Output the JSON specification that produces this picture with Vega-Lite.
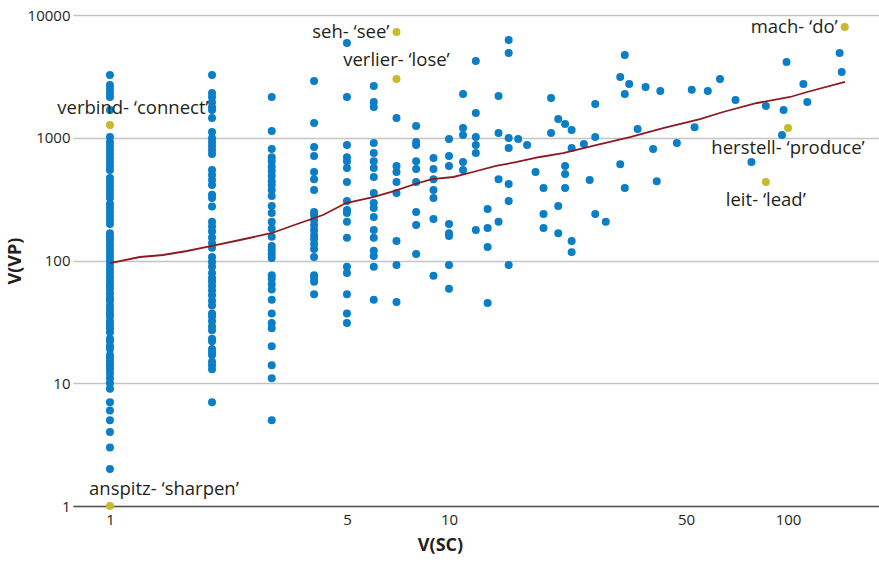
{
  "$schema": "https://vega.github.io/schema/vega-lite/v6.json",
  "width": 806,
  "height": 491,
  "autosize": {"type": "none"},
  "padding": {"left": 73, "top": 15, "right": 0, "bottom": 56},
  "background": "white",
  "config": {
    "view": {"stroke": null},
    "font": "Open Sans"
  },
  "datasets": {
    "pts": [
      {"sc":1,"vp":3245},{"sc":1,"vp":2692},{"sc":1,"vp":2496},{"sc":1,"vp":2315},{"sc":1,"vp":2148},{"sc":1,"vp":1683},{"sc":1,"vp":1014},{"sc":1,"vp":923},{"sc":1,"vp":857},{"sc":1,"vp":794},{"sc":1,"vp":737},{"sc":1,"vp":684},{"sc":1,"vp":634},{"sc":1,"vp":589},{"sc":1,"vp":546},{"sc":1,"vp":470},{"sc":1,"vp":436},{"sc":1,"vp":405},{"sc":1,"vp":375},{"sc":1,"vp":348},{"sc":1,"vp":323},{"sc":1,"vp":289},{"sc":1,"vp":268},{"sc":1,"vp":248},{"sc":1,"vp":230},{"sc":1,"vp":214},{"sc":1,"vp":198},{"sc":1,"vp":167},{"sc":1,"vp":155},{"sc":1,"vp":144},{"sc":1,"vp":134},{"sc":1,"vp":124},{"sc":1,"vp":115},{"sc":1,"vp":107},{"sc":1,"vp":99},{"sc":1,"vp":92},{"sc":1,"vp":85},{"sc":1,"vp":79},{"sc":1,"vp":73},{"sc":1,"vp":68},{"sc":1,"vp":63},{"sc":1,"vp":59},{"sc":1,"vp":54},{"sc":1,"vp":50},{"sc":1,"vp":47},{"sc":1,"vp":43},{"sc":1,"vp":40},{"sc":1,"vp":37},{"sc":1,"vp":35},{"sc":1,"vp":32},{"sc":1,"vp":30},{"sc":1,"vp":28},{"sc":1,"vp":26},{"sc":1,"vp":23},{"sc":1,"vp":22},{"sc":1,"vp":20},{"sc":1,"vp":19},{"sc":1,"vp":17},{"sc":1,"vp":16},{"sc":1,"vp":15},{"sc":1,"vp":14},{"sc":1,"vp":13},{"sc":1,"vp":12},{"sc":1,"vp":11},{"sc":1,"vp":10},{"sc":1,"vp":9},{"sc":1,"vp":7},{"sc":1,"vp":6},{"sc":1,"vp":5},{"sc":1,"vp":4},{"sc":1,"vp":3},{"sc":1,"vp":2},
      {"sc":2,"vp":3245},{"sc":2,"vp":2315},{"sc":2,"vp":2148},{"sc":2,"vp":1950},{"sc":2,"vp":1775},{"sc":2,"vp":1683},{"sc":2,"vp":1450},{"sc":2,"vp":1116},{"sc":2,"vp":995},{"sc":2,"vp":923},{"sc":2,"vp":857},{"sc":2,"vp":794},{"sc":2,"vp":737},{"sc":2,"vp":546},{"sc":2,"vp":498},{"sc":2,"vp":453},{"sc":2,"vp":413},{"sc":2,"vp":343},{"sc":2,"vp":323},{"sc":2,"vp":275},{"sc":2,"vp":207},{"sc":2,"vp":189},{"sc":2,"vp":172},{"sc":2,"vp":154},{"sc":2,"vp":139},{"sc":2,"vp":127},{"sc":2,"vp":107},{"sc":2,"vp":97},{"sc":2,"vp":89},{"sc":2,"vp":79},{"sc":2,"vp":72},{"sc":2,"vp":67},{"sc":2,"vp":62},{"sc":2,"vp":57},{"sc":2,"vp":52},{"sc":2,"vp":47},{"sc":2,"vp":43},{"sc":2,"vp":37},{"sc":2,"vp":35},{"sc":2,"vp":32},{"sc":2,"vp":29},{"sc":2,"vp":27},{"sc":2,"vp":23},{"sc":2,"vp":22},{"sc":2,"vp":19},{"sc":2,"vp":18},{"sc":2,"vp":17},{"sc":2,"vp":15},{"sc":2,"vp":14},{"sc":2,"vp":13},{"sc":2,"vp":7},
      {"sc":3,"vp":2148},{"sc":3,"vp":1137},{"sc":3,"vp":810},{"sc":3,"vp":693},{"sc":3,"vp":645},{"sc":3,"vp":580},{"sc":3,"vp":535},{"sc":3,"vp":487},{"sc":3,"vp":443},{"sc":3,"vp":413},{"sc":3,"vp":375},{"sc":3,"vp":336},{"sc":3,"vp":278},{"sc":3,"vp":244},{"sc":3,"vp":207},{"sc":3,"vp":182},{"sc":3,"vp":156},{"sc":3,"vp":131},{"sc":3,"vp":122},{"sc":3,"vp":113},{"sc":3,"vp":105},{"sc":3,"vp":76},{"sc":3,"vp":71},{"sc":3,"vp":64},{"sc":3,"vp":58},{"sc":3,"vp":48},{"sc":3,"vp":37},{"sc":3,"vp":31},{"sc":3,"vp":28},{"sc":3,"vp":20},{"sc":3,"vp":14},{"sc":3,"vp":11},{"sc":3,"vp":5},
      {"sc":4,"vp":2899},{"sc":4,"vp":1318},{"sc":4,"vp":841},{"sc":4,"vp":710},{"sc":4,"vp":525},{"sc":4,"vp":460},{"sc":4,"vp":375},{"sc":4,"vp":248},{"sc":4,"vp":235},{"sc":4,"vp":214},{"sc":4,"vp":195},{"sc":4,"vp":177},{"sc":4,"vp":161},{"sc":4,"vp":150},{"sc":4,"vp":136},{"sc":4,"vp":124},{"sc":4,"vp":107},{"sc":4,"vp":76},{"sc":4,"vp":72},{"sc":4,"vp":67},{"sc":4,"vp":53},
      {"sc":5,"vp":5915},{"sc":5,"vp":2148},{"sc":5,"vp":873},{"sc":5,"vp":693},{"sc":5,"vp":645},{"sc":5,"vp":567},{"sc":5,"vp":436},{"sc":5,"vp":305},{"sc":5,"vp":258},{"sc":5,"vp":244},{"sc":5,"vp":207},{"sc":5,"vp":153},{"sc":5,"vp":89},{"sc":5,"vp":79},{"sc":5,"vp":53},{"sc":5,"vp":37},{"sc":5,"vp":31},
      {"sc":6,"vp":2642},{"sc":6,"vp":1955},{"sc":6,"vp":1781},{"sc":6,"vp":906},{"sc":6,"vp":751},{"sc":6,"vp":645},{"sc":6,"vp":567},{"sc":6,"vp":479},{"sc":6,"vp":355},{"sc":6,"vp":294},{"sc":6,"vp":268},{"sc":6,"vp":226},{"sc":6,"vp":177},{"sc":6,"vp":153},{"sc":6,"vp":120},{"sc":6,"vp":109},{"sc":6,"vp":89},{"sc":6,"vp":48},
      {"sc":7,"vp":1449},{"sc":7,"vp":589},{"sc":7,"vp":525},{"sc":7,"vp":436},{"sc":7,"vp":355},{"sc":7,"vp":144},{"sc":7,"vp":92},{"sc":7,"vp":46},
      {"sc":8,"vp":1247},{"sc":8,"vp":923},{"sc":8,"vp":873},{"sc":8,"vp":645},{"sc":8,"vp":556},{"sc":8,"vp":436},{"sc":8,"vp":248},{"sc":8,"vp":195},{"sc":8,"vp":113},
      {"sc":9,"vp":684},{"sc":9,"vp":556},{"sc":9,"vp":460},{"sc":9,"vp":375},{"sc":9,"vp":323},{"sc":9,"vp":218},{"sc":9,"vp":75},
      {"sc":10,"vp":977},{"sc":10,"vp":710},{"sc":10,"vp":589},{"sc":10,"vp":198},{"sc":10,"vp":167},{"sc":10,"vp":158},{"sc":10,"vp":92},{"sc":10,"vp":59},
      {"sc":11,"vp":2271},{"sc":11,"vp":1200},{"sc":11,"vp":1052},{"sc":11,"vp":634},{"sc":11,"vp":546},
      {"sc":12,"vp":4220},{"sc":12,"vp":1592},{"sc":12,"vp":1014},{"sc":12,"vp":873},{"sc":12,"vp":751},{"sc":12,"vp":177},
      {"sc":13,"vp":263},{"sc":13,"vp":184},{"sc":13,"vp":129},{"sc":13,"vp":45},
      {"sc":14,"vp":2188},{"sc":14,"vp":1093},{"sc":14,"vp":460},{"sc":14,"vp":207},
      {"sc":15,"vp":6255},{"sc":15,"vp":4907},{"sc":15,"vp":995},{"sc":15,"vp":826},{"sc":15,"vp":420},{"sc":15,"vp":305},{"sc":15,"vp":92},
      {"sc":16,"vp":977},{"sc":17,"vp":873},
      {"sc":18,"vp":525},
      {"sc":19,"vp":390},{"sc":19,"vp":239},{"sc":19,"vp":184},
      {"sc":20,"vp":1093},{"sc":20,"vp":2109},
      {"sc":21,"vp":1422},{"sc":21,"vp":278},{"sc":21,"vp":167},
      {"sc":22,"vp":1294},{"sc":22,"vp":589},{"sc":22,"vp":507},{"sc":22,"vp":390},
      {"sc":23,"vp":1157},{"sc":23,"vp":826},{"sc":23,"vp":144},{"sc":23,"vp":117},
      {"sc":25,"vp":889},
      {"sc":26,"vp":453},
      {"sc":27,"vp":1014},{"sc":27,"vp":239},{"sc":27,"vp":1883},
      {"sc":29,"vp":207},
      {"sc":32,"vp":3126},{"sc":32,"vp":609},
      {"sc":33,"vp":4722},{"sc":33,"vp":2271},{"sc":33,"vp":390},
      {"sc":34,"vp":2742},
      {"sc":36,"vp":1178},
      {"sc":38,"vp":2590},
      {"sc":40,"vp":810},
      {"sc":41,"vp":443},
      {"sc":42,"vp":2405},
      {"sc":47,"vp":906},
      {"sc":52,"vp":2459},
      {"sc":53,"vp":1218},
      {"sc":58,"vp":2405},
      {"sc":63,"vp":3010},
      {"sc":70,"vp":2031},
      {"sc":78,"vp":634},
      {"sc":86,"vp":1815},
      {"sc":99,"vp":4142},
      {"sc":97,"vp":1683},
      {"sc":96,"vp":1052},
      {"sc":111,"vp":2742},
      {"sc":114,"vp":1955},
      {"sc":142,"vp":4907},
      {"sc":144,"vp":3435}
    ],
    "hl": [
      {"sc":7,"vp":7270,"label":"seh- ‘see’"},
      {"sc":7,"vp":3010,"label":"verlier- ‘lose’"},
      {"sc":147,"vp":7980,"label":"mach- ‘do’"},
      {"sc":100,"vp":1200,"label":"herstell- ‘produce’"},
      {"sc":86,"vp":436,"label":"leit- ‘lead’"},
      {"sc":1,"vp":1270,"label":"verbind- ‘connect’"},
      {"sc":1,"vp":1,"label":"anspitz- ‘sharpen’"}
    ],
    "fit": [
      {"sc":1,"vp":95.4},{"sc":1.226,"vp":106.8},{"sc":1.433,"vp":110.9},{"sc":1.687,"vp":119.5},{"sc":2.0,"vp":131.3},{"sc":2.418,"vp":146.9},{"sc":3.006,"vp":167.5},{"sc":3.635,"vp":202.1},{"sc":4.249,"vp":234.8},{"sc":4.97,"vp":294},{"sc":5.97,"vp":329},{"sc":6.88,"vp":368},{"sc":7.94,"vp":420},{"sc":8.91,"vp":461},{"sc":10.3,"vp":479},{"sc":11.77,"vp":526},{"sc":13.76,"vp":589},{"sc":15.87,"vp":635},{"sc":18.55,"vp":697},{"sc":21.69,"vp":751},{"sc":27.33,"vp":873},{"sc":34.2,"vp":1014},{"sc":42.8,"vp":1200},{"sc":55.0,"vp":1421},{"sc":64.3,"vp":1621},{"sc":81.0,"vp":1919},{"sc":101.4,"vp":2148},{"sc":113.8,"vp":2359},{"sc":147.3,"vp":2846}
    ]
  },
  "encoding": {
    "x": {
      "field": "sc", "type": "quantitative",
      "scale": {"type": "log", "domain": [0.778, 185.5], "nice": false, "zero": false},
      "axis": {
        "title": "V(SC)", "values": [1, 5, 10, 50, 100], "format": "d",
        "grid": false, "ticks": false, "domain": true, "domainColor": "#555555", "domainWidth": 1.5,
        "labelFontSize": 15, "labelColor": "#231f20", "labelPadding": 6,
        "titleFontSize": 18, "titleFontWeight": "bold", "titleColor": "#231f20",
        "titleX": 367, "titlePadding": 9
      }
    },
    "y": {
      "field": "vp", "type": "quantitative",
      "scale": {"type": "log", "domain": [1, 10000], "nice": false, "zero": false},
      "axis": {
        "title": "V(VP)", "values": [1, 10, 100, 1000, 10000], "format": "d",
        "grid": true, "gridColor": "#c4c4c4", "gridWidth": 1.5,
        "ticks": false, "domain": false,
        "labelFontSize": 15, "labelColor": "#231f20", "labelPadding": 3,
        "titleFontSize": 18, "titleFontWeight": "bold", "titleColor": "#231f20",
        "titleX": -58, "titleBaseline": "middle"
      }
    }
  },
  "layer": [
    {
      "data": {"name": "pts"},
      "mark": {"type": "circle", "size": 64, "color": "#0a7ec6", "opacity": 1}
    },
    {
      "data": {"name": "fit"},
      "mark": {"type": "line", "color": "#8b1a22", "strokeWidth": 1.8}
    },
    {
      "data": {"name": "hl"},
      "mark": {"type": "circle", "size": 64, "color": "#c9b92c", "opacity": 1}
    },
    {
      "data": {"name": "hl"},
      "transform": [{"filter": "datum.label == 'seh- ‘see’' || datum.label == 'mach- ‘do’'"}],
      "mark": {"type": "text", "align": "right", "baseline": "middle", "dx": -7, "dy": 0, "fontSize": 18.5, "color": "#231f20"},
      "encoding": {"text": {"field": "label"}}
    },
    {
      "data": {"name": "hl"},
      "transform": [{"filter": "datum.label == 'verlier- ‘lose’'"}],
      "mark": {"type": "text", "align": "center", "baseline": "middle", "dy": -19, "fontSize": 18.5, "color": "#231f20"},
      "encoding": {"text": {"field": "label"}}
    },
    {
      "data": {"name": "hl"},
      "transform": [{"filter": "datum.label == 'herstell- ‘produce’'"}],
      "mark": {"type": "text", "align": "center", "baseline": "middle", "dy": 20, "fontSize": 18.5, "color": "#231f20"},
      "encoding": {"text": {"field": "label"}}
    },
    {
      "data": {"name": "hl"},
      "transform": [{"filter": "datum.label == 'leit- ‘lead’'"}],
      "mark": {"type": "text", "align": "center", "baseline": "middle", "dy": 18, "fontSize": 18.5, "color": "#231f20"},
      "encoding": {"text": {"field": "label"}}
    },
    {
      "data": {"name": "hl"},
      "transform": [{"filter": "datum.label == 'verbind- ‘connect’'"}],
      "mark": {"type": "text", "align": "center", "baseline": "middle", "dx": 23, "dy": -17, "fontSize": 18.5, "color": "#231f20"},
      "encoding": {"text": {"field": "label"}}
    },
    {
      "data": {"name": "hl"},
      "transform": [{"filter": "datum.label == 'anspitz- ‘sharpen’'"}],
      "mark": {"type": "text", "align": "center", "baseline": "middle", "dx": 54, "dy": -17, "fontSize": 18.5, "color": "#231f20"},
      "encoding": {"text": {"field": "label"}}
    }
  ]
}
